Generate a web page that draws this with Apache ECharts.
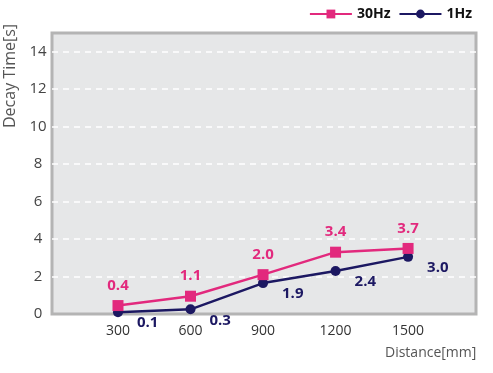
<!DOCTYPE html>
<html>
<head>
<meta charset="utf-8">
<script src="https://cdn.jsdelivr.net/npm/echarts@6/dist/echarts.min.js"></script>
<style>
  html, body { margin: 0; padding: 0; background: #fff; }
  #chart { width: 493px; height: 373px; }
</style>
</head>
<body>
<div id="chart"></div>
<script>
// Data
var distances = [300, 600, 900, 1200, 1500];
var hz30Values = [0.45, 0.95, 2.1, 3.3, 3.5];
var hz30Labels = ['0.4', '1.1', '2.0', '3.4', '3.7'];
var hz1Values = [0.1, 0.25, 1.65, 2.3, 3.05];
var hz1Labels = ['0.1', '0.3', '1.9', '2.4', '3.0'];
var yTicks = [0, 2, 4, 6, 8, 10, 12, 14];
var seriesNames = ['30Hz', '1Hz'];

var FONT = '"Open Sans", "Noto Sans", sans-serif';
var PINK = '#e2297d';
var NAVY = '#1c1862';

function pairs(xs, ys) {
  return xs.map(function (x, i) { return [x, ys[i]]; });
}

var chart = echarts.init(document.getElementById('chart'));
chart.setOption({
  animation: false,
  backgroundColor: '#ffffff',
  textStyle: { fontFamily: FONT },
  legend: {
    top: 2,
    right: 16,
    itemWidth: 42,
    itemHeight: 11,
    itemGap: 8,
    textStyle: { fontFamily: FONT, fontSize: 14, fontWeight: 'bold', color: '#111' },
    data: seriesNames
  },
  grid: {
    left: 52, right: 17, top: 33, bottom: 59,
    show: true,
    backgroundColor: '#e6e7e8',
    borderColor: '#b4b4b4',
    borderWidth: 3
  },
  xAxis: {
    type: 'value',
    min: 27,
    max: 1781,
    axisLine: { show: false },
    axisTick: { show: false },
    splitLine: { show: false },
    axisLabel: {
      customValues: distances,
      formatter: function (v) { return String(v); },
      color: '#333',
      fontSize: 14,
      fontFamily: FONT,
      margin: 10
    }
  },
  yAxis: {
    type: 'value',
    min: 0,
    max: 15,
    interval: 2,
    axisLine: { show: false },
    axisTick: { show: false },
    axisLabel: {
      customValues: yTicks,
      color: '#444',
      fontSize: 15,
      fontFamily: FONT,
      align: 'center',
      margin: 14
    },
    splitLine: {
      show: true,
      showMinLine: false,
      showMaxLine: false,
      lineStyle: { color: '#ffffff', width: 1.5, type: [6, 5] }
    }
  },
  graphic: [
    {
      type: 'text',
      left: 385,
      top: 346,
      style: { text: 'Distance[mm]', fill: '#555', font: '14px ' + FONT }
    },
    {
      type: 'text',
      x: 2,
      y: 128,
      rotation: Math.PI / 2,
      style: { text: 'Decay Time[s]', fill: '#555', font: '16px ' + FONT, textVerticalAlign: 'top' }
    }
  ],
  series: [
    {
      name: seriesNames[0],
      type: 'line',
      data: pairs(distances, hz30Values),
      symbol: 'rect',
      symbolSize: 11,
      lineStyle: { color: PINK, width: 2.5 },
      itemStyle: { color: PINK },
      label: {
        show: true,
        position: 'top',
        distance: 7,
        color: PINK,
        fontSize: 15,
        fontWeight: 'bold',
        fontFamily: FONT,
        formatter: function (p) { return hz30Labels[p.dataIndex]; }
      },
      z: 3
    },
    {
      name: seriesNames[1],
      type: 'line',
      data: pairs(distances, hz1Values),
      symbol: 'circle',
      symbolSize: 10,
      lineStyle: { color: NAVY, width: 2.5 },
      itemStyle: { color: NAVY },
      label: {
        show: true,
        position: 'right',
        offset: [9, 11],
        color: NAVY,
        fontSize: 15,
        fontWeight: 'bold',
        fontFamily: FONT,
        formatter: function (p) { return hz1Labels[p.dataIndex]; }
      },
      z: 2
    }
  ]
});
</script>
</body>
</html>
